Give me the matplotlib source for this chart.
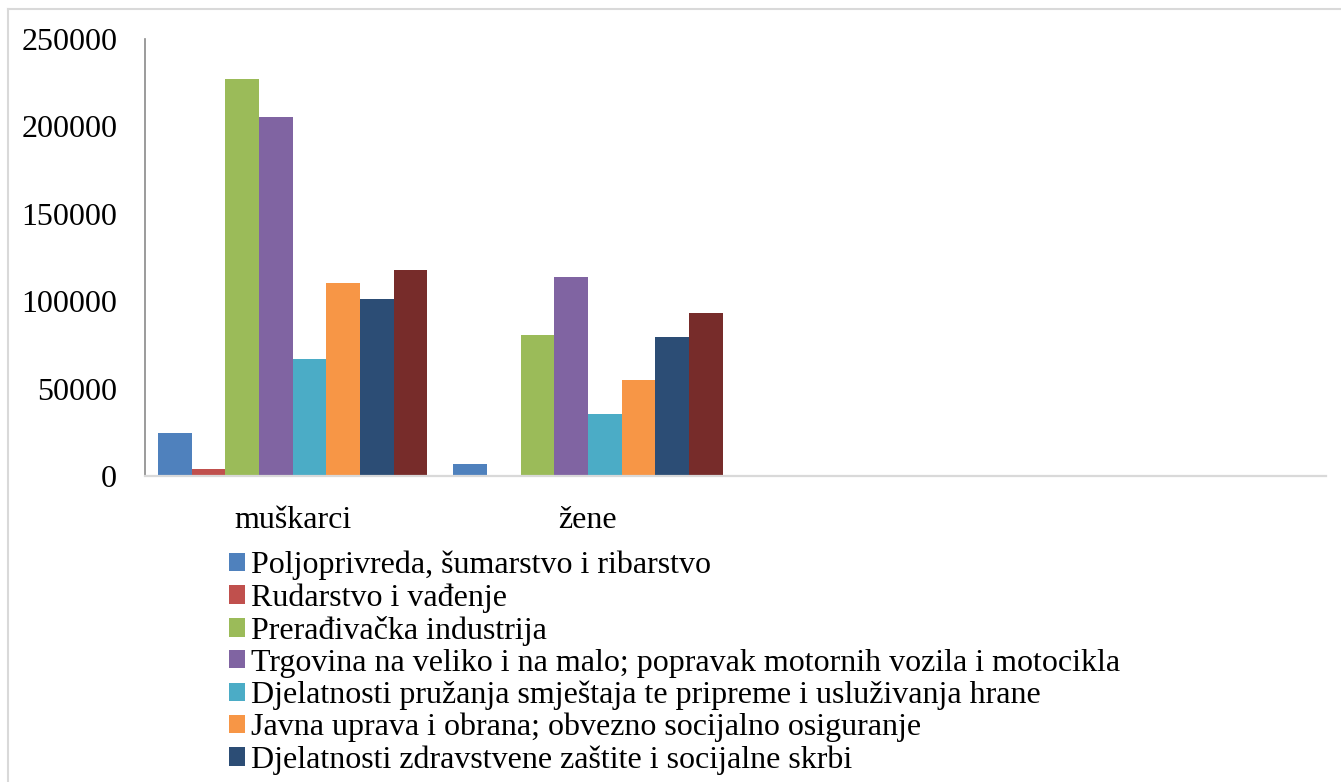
import numpy as np
import matplotlib.pyplot as plt
from matplotlib.lines import Line2D

plt.rcParams['font.family'] = ['Liberation Serif', 'DejaVu Serif']

categories = ['muškarci', 'žene', '', '']
series = [
    'Poljoprivreda, šumarstvo i ribarstvo',
    'Rudarstvo i vađenje',
    'Prerađivačka industrija',
    'Trgovina na veliko i na malo; popravak motornih vozila i motocikla',
    'Djelatnosti pružanja smještaja te pripreme i usluživanja hrane',
    'Javna uprava i obrana; obvezno socijalno osiguranje',
    'Djelatnosti zdravstvene zaštite i socijalne skrbi',
    'Ostalo',  # 8th series, legend entry is cut off in the source
]
muskarci = [24500, 3800, 227000, 205300, 66800, 110200, 101100, 117800]
zene = [6600, 300, 80500, 113800, 35500, 54900, 79300, 93200]
colors = ['#4F81BD', '#C0504D', '#9BBB59', '#8064A2', '#4BACC6', '#F79646', '#2C4D75', '#772C2A']

W, H = 1341, 782
fig = plt.figure(figsize=(W / 100, H / 100), dpi=100)
ax = fig.add_axes([145 / W, 1 - 476 / H, (1326 - 145) / W, (476 - 39) / H])

x = np.arange(len(categories))
n = len(series)
w = 0.912 / n
handles = []
for i in range(n):
    vals = [muskarci[i], zene[i], 0, 0]
    b = ax.bar(x + (i - (n - 1) / 2) * w, vals, width=w, color=colors[i],
               label=series[i], linewidth=0)
    handles.append(b)

ax.set_xlim(-0.5, len(categories) - 0.5)
ax.set_ylim(0, 250000)
ax.set_yticks(np.arange(0, 250001, 50000))
ax.set_xticks([0, 1])
ax.set_xticklabels(categories[:2])
ax.tick_params(axis='y', length=0, pad=20, labelsize=23)
ax.tick_params(axis='x', length=0, pad=21.5, labelsize=23)

for s in ['top', 'right']:
    ax.spines[s].set_visible(False)
ax.spines['left'].set_color('#8a8a8a')
ax.spines['left'].set_linewidth(1.2)
ax.spines['bottom'].set_color('#d9d9d9')
ax.spines['bottom'].set_linewidth(1.6)

# legend, the last entry falls outside the picture in the source
leg = fig.legend(handles[:7], series[:7], loc='upper left',
                 bbox_to_anchor=(229 / W, 1 - 551 / H), frameon=False,
                 fontsize=23, handlelength=0.5, handleheight=0.5,
                 handletextpad=0.2, labelspacing=0.09, borderpad=0,
                 borderaxespad=0)

# light frame around the chart area
fig.add_artist(Line2D([7.5 / W, 7.5 / W], [0, 1 - 9 / H], color='#d9d9d9', lw=1.5,
                      transform=fig.transFigure))
fig.add_artist(Line2D([7.5 / W, 1], [1 - 9 / H, 1 - 9 / H], color='#d9d9d9', lw=1.5,
                      transform=fig.transFigure))

fig.savefig('out.png', dpi=100)
